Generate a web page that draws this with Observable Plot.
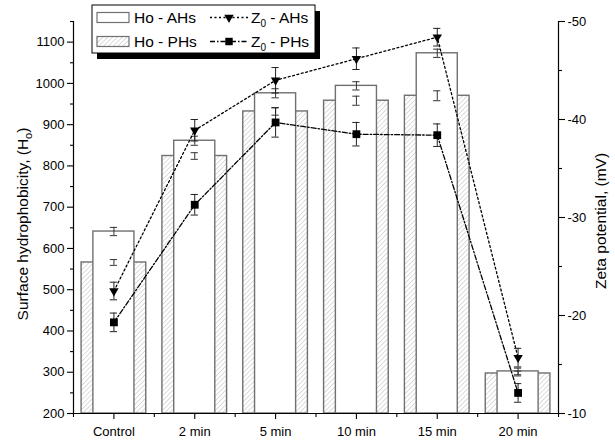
<!DOCTYPE html>
<html><head><meta charset="utf-8">
<script src="https://cdn.jsdelivr.net/npm/d3@7"></script>
<script src="https://cdn.jsdelivr.net/npm/@observablehq/plot@0.6"></script>
<style>
body{margin:0;background:#fff;}
#chart{position:relative;width:615px;height:444px;font-family:"Liberation Sans",Arial,sans-serif;}
#chart svg{position:absolute;left:0;top:0;overflow:visible;}
</style></head><body><div id="chart"></div>
<script>
// ---- data ----
const categories = ["Control", "2 min", "5 min", "10 min", "15 min", "20 min"];
const hoAHs    = [641, 861, 976, 994, 1073, 302];
const hoAHsErr = [10, 11, 11, 10, 10, 8];
const hoPHs    = [566, 824, 932, 958, 970, 297];
const hoPHsErr = [7, 8, 9, 11, 12, 6];
const zAHs     = [-22.5, -38.9, -44.0, -46.2, -48.4, -15.7];
const zAHsErr  = [0.9, 1.1, 1.3, 1.1, 0.9, 0.95];
const zPHs     = [-19.3, -31.3, -39.7, -38.5, -38.4, -12.1];
const zPHsErr  = [0.95, 1.05, 1.5, 1.2, 1.15, 0.95];
const hoTicks    = [200, 300, 400, 500, 600, 700, 800, 900, 1000, 1100];
const hoMinor    = [250, 350, 450, 550, 650, 750, 850, 950, 1050, 1150];
const zetaTicks  = [-10, -20, -30, -40, -50];
const zetaMinor  = [-15, -25, -35, -45];
const legendLabels = ["Ho - AHs", "Ho - PHs", "Z", "Z"];

const rows = categories.map((c, i) => ({
  i, c, ah: hoAHs[i], ahE: hoAHsErr[i], ph: hoPHs[i], phE: hoPHsErr[i],
  zA: zAHs[i], zAE: zAHsErr[i], zP: zPHs[i], zPE: zPHsErr[i]
}));

const W = 615, H = 444, mL = 73, mR = 57, mT = 21, mB = 31;
const xDomain = [-0.5, categories.length - 0.5];
const cap = 0.045;
const FONT = '"Liberation Sans", Arial, sans-serif';
const barStroke = "#707070";
const common = {width: W, height: H, marginLeft: mL, marginRight: mR, marginTop: mT, marginBottom: mB,
  style: {fontFamily: FONT, fontSize: "13px", color: "#000", background: "transparent"}};

function errMarks(y, e, stroke, sw) {
  return [
    Plot.ruleX(rows, {x: "i", y1: d => d[y] - d[e], y2: d => d[y] + d[e], stroke, strokeWidth: sw}),
    Plot.ruleY(rows, {x1: d => d.i - cap, x2: d => d.i + cap, y: d => d[y] - d[e], stroke, strokeWidth: sw}),
    Plot.ruleY(rows, {x1: d => d.i - cap, x2: d => d.i + cap, y: d => d[y] + d[e], stroke, strokeWidth: sw})
  ];
}

const left = Plot.plot({
  ...common,
  x: {domain: xDomain},
  y: {domain: [200, 1150]},
  marks: [
    Plot.rectY(rows, {x1: d => d.i - 0.4, x2: d => d.i + 0.4, y1: 200, y2: "ph", fill: "url(#hatchPH)", stroke: barStroke, strokeWidth: 1.4}),
    Plot.rectY(rows, {x1: d => d.i - 0.254, x2: d => d.i + 0.254, y1: 200, y2: "ah", fill: "white", stroke: barStroke, strokeWidth: 1.4}),
    ...errMarks("ph", "phE", "#333", 1),
    ...errMarks("ah", "ahE", "#333", 1),
    Plot.ruleX([xDomain[0]], {stroke: "black", strokeWidth: 1.2}),
    Plot.ruleY([200], {stroke: "black", strokeWidth: 1.2}),
    Plot.axisY({ticks: hoTicks, tickSize: 6, tickPadding: 3, label: null, tickFormat: d => String(d), stroke: "black", strokeWidth: 1.1}),
    Plot.axisY({ticks: hoMinor, tickSize: 3, label: null, tickFormat: () => "", stroke: "black", strokeWidth: 1.1}),
    Plot.axisX({ticks: categories.map((c, i) => i), tickSize: 6, tickPadding: 7, label: null, tickFormat: i => categories[i], stroke: "black", strokeWidth: 1.1}),
    Plot.axisX({ticks: d3.range(categories.length + 1).map(i => i - 0.5), tickSize: 4, label: null, tickFormat: () => "", stroke: "black", strokeWidth: 1.1})
  ]
});

const right = Plot.plot({
  ...common,
  x: {domain: xDomain, axis: null},
  y: {domain: [-10, -50]},
  marks: [
    Plot.ruleX([xDomain[1]], {stroke: "black", strokeWidth: 1.2}),
    Plot.axisY({anchor: "right", ticks: zetaTicks, tickSize: 6, tickPadding: 3, label: null, tickFormat: d => String(d), stroke: "black", strokeWidth: 1.1}),
    Plot.axisY({anchor: "right", ticks: zetaMinor, tickSize: 3, label: null, tickFormat: () => "", stroke: "black", strokeWidth: 1.1}),
    Plot.line(rows, {x: "i", y: "zA", stroke: "black", strokeWidth: 1.3, strokeDasharray: "2,2.5"}),
    Plot.line(rows, {x: "i", y: "zP", stroke: "black", strokeWidth: 1.3, strokeDasharray: "5,2,1.5,2"}),
    ...errMarks("zA", "zAE", "#222", 1),
    ...errMarks("zP", "zPE", "#222", 1),
    Plot.dot(rows, {x: "i", y: "zA", symbol: "triangle", rotate: 180, r: 3.5, fill: "black", stroke: "none"}),
    Plot.dot(rows, {x: "i", y: "zP", symbol: "square", r: 4.4, fill: "black", stroke: "none"})
  ]
});

// hatch pattern
function addPattern(svg) {
  const defs = d3.select(svg).insert("defs", ":first-child");
  const p = defs.append("pattern").attr("id", "hatchPH").attr("patternUnits", "userSpaceOnUse")
    .attr("width", 3.4).attr("height", 3.4).attr("patternTransform", "rotate(45)");
  p.append("rect").attr("width", 3.4).attr("height", 3.4).attr("fill", "white");
  p.append("line").attr("x1", 0).attr("y1", 0).attr("x2", 0).attr("y2", 3.4).attr("stroke", "#b0b0b0").attr("stroke-width", 0.9);
}
addPattern(left);

// axis titles
const ls = d3.select(left);
const t1 = ls.append("text").attr("transform", `translate(28,224) rotate(-90)`)
  .attr("text-anchor", "middle").attr("font-family", FONT).attr("font-size", 15.5).attr("fill", "black");
t1.append("tspan").text("Surface hydrophobicity, (H");
t1.append("tspan").attr("font-size", 11).attr("dy", 3.5).text("o");
t1.append("tspan").attr("dy", -3.5).text(")");
d3.select(right).append("text").attr("transform", `translate(606,221) rotate(-90)`)
  .attr("text-anchor", "middle").attr("font-family", FONT).attr("font-size", 15.5).attr("fill", "black")
  .text("Zeta potential, (mV)");

const chart = document.getElementById("chart");
chart.appendChild(left);
chart.appendChild(right);

// legend
const leg = d3.create("svg").attr("width", W).attr("height", H).style("pointer-events", "none");
const lx = 92, ly = 5, lw = 223, lh = 48;
leg.append("rect").attr("x", lx + 5).attr("y", ly + 6).attr("width", lw).attr("height", lh).attr("fill", "black");
leg.append("rect").attr("x", lx).attr("y", ly).attr("width", lw).attr("height", lh).attr("fill", "white").attr("stroke", "black").attr("stroke-width", 1);
const rowY = [17.5, 41.5];
leg.append("rect").attr("x", 97).attr("y", rowY[0] - 5).attr("width", 32).attr("height", 10).attr("fill", "white").attr("stroke", barStroke).attr("stroke-width", 1.2);
leg.append("rect").attr("x", 97).attr("y", rowY[1] - 5).attr("width", 32).attr("height", 10).attr("fill", "url(#hatchPH)").attr("stroke", barStroke).attr("stroke-width", 1.2);
[0, 1].forEach(k => {
  leg.append("text").attr("x", 134).attr("y", rowY[k] + 5.3).attr("font-family", FONT).attr("font-size", 15.5).attr("fill", "black").text(legendLabels[k]);
});
leg.append("line").attr("x1", 210).attr("x2", 248).attr("y1", rowY[0]).attr("y2", rowY[0]).attr("stroke", "black").attr("stroke-width", 1.3).attr("stroke-dasharray", "2,2.5");
leg.append("line").attr("x1", 210).attr("x2", 248).attr("y1", rowY[1]).attr("y2", rowY[1]).attr("stroke", "black").attr("stroke-width", 1.3).attr("stroke-dasharray", "5,2,1.5,2");
leg.append("path").attr("d", d3.symbol(d3.symbolTriangle, Math.PI * 3.5 * 3.5)()).attr("transform", `translate(229,${rowY[0]}) rotate(180)`).attr("fill", "black");
leg.append("path").attr("d", d3.symbol(d3.symbolSquare, Math.PI * 4.2 * 4.2)()).attr("transform", `translate(229,${rowY[1]})`).attr("fill", "black");
["AHs", "PHs"].forEach((s, k) => {
  const t = leg.append("text").attr("x", 251).attr("y", rowY[k] + 5.3).attr("font-family", FONT).attr("font-size", 15.5).attr("fill", "black");
  t.append("tspan").text(legendLabels[k + 2]);
  t.append("tspan").attr("font-size", 10).attr("dy", 4).text("0");
  t.append("tspan").attr("dy", -4).text(" - " + s);
});
chart.appendChild(leg.node());
</script></body></html>
